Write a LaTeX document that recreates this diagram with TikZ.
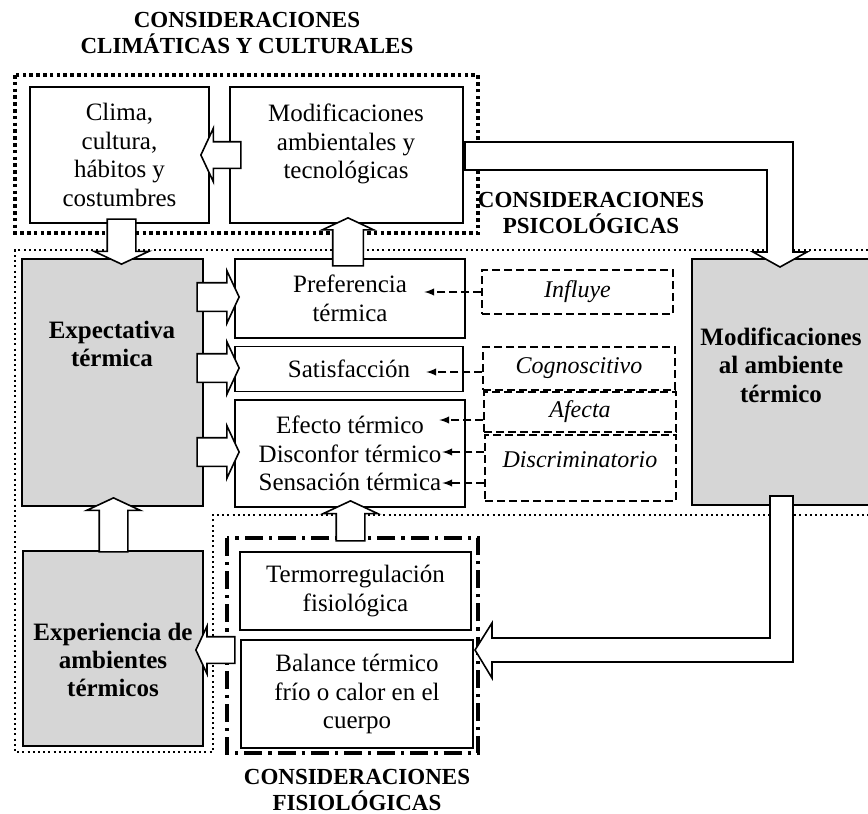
\documentclass[tikz,border=0pt]{standalone}
\usepackage{fontspec}
\setmainfont{Liberation Serif}
\usetikzlibrary{shapes,arrows,calc}
\tikzset{
  box/.style={draw, line width=0.8pt, inner sep=0pt, align=center},
  graybox/.style={box, fill=black!16},
  note/.style={draw, line width=0.6pt, dash pattern=on 4pt off 2pt, inner sep=0pt,
    font=\fontsize{12}{14}\selectfont\itshape},
  txt/.style={align=center},
  bold/.style={align=center, font=\fontsize{12.5}{14.2}\selectfont\bfseries},
  title/.style={align=center, font=\fontsize{11.5}{12.8}\selectfont\bfseries},
  barrow/.style={single arrow, draw, fill=white, line width=0.8pt, inner sep=6.75pt,
    single arrow tip angle=130, single arrow head indent=0pt, anchor=tip},
  larrow/.style={draw, fill=white, line width=0.8pt, line join=miter},
  dasharrow/.style={dash pattern=on 4pt off 2pt, line width=0.7pt, -latex},
}

\begin{document}
\begin{tikzpicture}[x=0.5pt, y=-0.5pt, font=\fontsize{12.5}{14.2}\selectfont]
\useasboundingbox (0,0) rectangle (868,814);
% groups of considerations
\draw[line width=1.8pt, dash pattern=on 1.8pt off 1.6pt] (15,75) rectangle (478,233);
\draw[line width=1pt, dash pattern=on 1pt off 1.6pt] (868,250) -- (15,250) -- (15,752) -- (213,752) -- (213,515) -- (868,515);
\draw[line width=1.6pt, dash pattern=on 9pt off 3pt on 1.6pt off 3pt] (227,538) rectangle (478,753);
\node[title] (tclim) at (247,33) {CONSIDERACIONES\\CLIMÁTICAS Y CULTURALES};
\node[title] (tpsic) at (591,213) {CONSIDERACIONES\\PSICOLÓGICAS};
\node[title] (tfisio) at (357,790) {CONSIDERACIONES\\FISIOLÓGICAS};

% boxes
\node[box, minimum width=89.5pt, minimum height=68pt] (clima) at (119.5,155) {Clima,\\cultura,\\hábitos y\\costumbres};
\node[box, minimum width=116.5pt, minimum height=68pt] (modamb) at (346.5,155) {};
\node[txt] (modambt) at (346,144) {Modificaciones\\ambientales y\\tecnológicas};
\node[graybox, minimum width=90.5pt, minimum height=123.5pt] (expect) at (112.5,382.5) {};
\node[bold] (expectt) at (112,344) {Expectativa\\térmica};
\node[box, minimum width=115pt, minimum height=39.5pt] (pref) at (350,298.5) {Preferencia\\térmica};
\node[box, minimum width=114pt, minimum height=22.5pt] (sat) at (349,369) {Satisfacción};
\node[box, minimum width=115pt, minimum height=53.5pt] (efec) at (350,453.5) {Efecto térmico\\Disconfor térmico\\Sensación térmica};
\node[graybox, minimum width=90pt, minimum height=123pt] (ambmod) at (782,382) {};
\node[bold] (ambmodt) at (781,365) {Modificaciones\\al ambiente\\térmico};
\node[box, minimum width=115.5pt, minimum height=39pt] (termo) at (355.5,591) {Termorregulación\\fisiológica};
\node[box, minimum width=116pt, minimum height=54pt] (bal) at (357,694) {Balance térmico\\frío o calor en el\\cuerpo};
\node[graybox, minimum width=90pt, minimum height=97.5pt] (expe) at (113,648.5) {};
\node[bold] (expet) at (113,660) {Experiencia de\\ambientes\\térmicos};

% dashed notes
\node[note, minimum width=95.5pt, minimum height=22pt] (infl) at (577.5,292) {Influye};
\node[note, minimum width=96pt, minimum height=21.5pt] (cogn) at (579,368.5) {Cognoscitivo};
\node[note, minimum width=96pt, minimum height=20pt] (afec) at (580,412) {Afecta};
\node[note, minimum width=95.5pt, minimum height=33pt] (disc) at (580.5,468) {};
\node[font=\fontsize{12}{14}\selectfont\itshape] (disct) at (580,460) {Discriminatorio};
\draw[dasharrow] (infl.west) -- ++(-57,0);
\draw[dasharrow] ($(cogn.west)+(0,3.5)$) -- ++(-56,0);
\draw[dasharrow] ($(afec.west)+(0,8)$) -- ++(-44,0);
\draw[dasharrow] ($(disc.west)+(0,-16)$) -- ++(-42,0);
\draw[dasharrow] ($(disc.west)+(0,15)$) -- ++(-42,0);

% block arrows
\node[barrow, shape border rotate=180, minimum height=20pt, inner sep=6.25pt, single arrow head extend=6.75pt] (a1) at (200,155) {};
\node[barrow, shape border rotate=270, minimum height=22.5pt, single arrow head extend=6.5pt] (a2) at (121.5,265) {};
\node[barrow, shape border rotate=90, minimum height=24pt, inner sep=7.25pt, single arrow head extend=5.25pt] (a3) at (348,217) {};
\foreach \y/\n in {297/a4, 368/a5, 452/a6}
  \node[barrow, minimum height=21pt, single arrow head extend=6pt] (\n) at (240,\y) {};
\node[barrow, shape border rotate=90, minimum height=27pt, single arrow head extend=6.25pt] (a7) at (113.5,497) {};
\node[barrow, shape border rotate=90, minimum height=20pt, single arrow head extend=6.5pt] (a8) at (350.5,500) {};
\node[barrow, shape border rotate=180, minimum height=19.5pt, inner sep=6.25pt, single arrow head extend=5.25pt] (a9) at (195,650) {};

% bent arrows
\draw[larrow] (465,142) -- (793,142) -- (793,252) -- (807,252) -- (780,267) -- (753,252) -- (767,252) -- (767,170) -- (465,170) -- cycle;
\draw[larrow] (770,496) -- (793,496) -- (793,662) -- (492,662) -- (492,678) -- (475,650) -- (492,623) -- (492,638) -- (770,638) -- cycle;
\end{tikzpicture}
\end{document}
